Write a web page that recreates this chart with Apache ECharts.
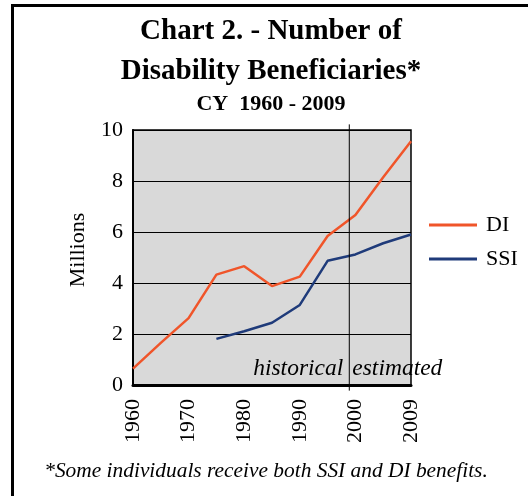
<!DOCTYPE html>
<html>
<head>
<meta charset="utf-8">
<script src="https://cdn.jsdelivr.net/npm/echarts@6/dist/echarts.min.js"></script>
<style>
html,body{margin:0;padding:0;background:#fff;}
#chart{width:528px;height:496px;}
</style>
</head>
<body>
<div id="chart"></div>
<script>
const years = ['1960','1965','1970','1975','1980','1985','1990','1995','2000','2005','2009'];
const diValues = [0.64, 1.65, 2.62, 4.33, 4.66, 3.88, 4.25, 5.84, 6.67, 8.15, 9.56];
const ssiValues = [null, null, null, 1.81, 2.11, 2.44, 3.14, 4.87, 5.12, 5.56, 5.90];
const yTicks = [0, 2, 4, 6, 8, 10];
const dividerIndex = 7.78; // position of historical/estimated divider, in category units
const serif = '"Liberation Serif", "Times New Roman", serif';

const chart = echarts.init(document.getElementById('chart'), null, {renderer: 'canvas'});

const option = {
  backgroundColor: '#ffffff',
  animation: false,
  title: {
    text: 'Chart 2. - Number of\nDisability Beneficiaries*',
    subtext: 'CY  1960 - 2009',
    left: 266,
    top: 7,
    textAlign: 'center',
    itemGap: 0,
    textStyle: {fontFamily: serif, fontWeight: 'bold', fontSize: 29, lineHeight: 40, color: '#000'},
    subtextStyle: {fontFamily: serif, fontWeight: 'bold', fontSize: 22, lineHeight: 24, color: '#000'}
  },
  legend: {
    orient: 'vertical',
    left: 424,
    top: 209,
    icon: 'rect',
    itemWidth: 48,
    itemHeight: 3,
    itemGap: 12,
    data: ['DI', 'SSI'],
    textStyle: {fontFamily: serif, fontSize: 22, lineHeight: 22, color: '#000', padding: [0, 0, 0, 4]}
  },
  grid: {
    left: 133, right: 117, top: 130, bottom: 111,
    show: true, backgroundColor: '#d9d9d9', borderColor: '#000', borderWidth: 1.5
  },
  xAxis: [{
    type: 'category',
    data: years,
    boundaryGap: false,
    axisLine: {show: true, lineStyle: {color: '#000', width: 3}},
    axisTick: {show: false},
    splitLine: {show: false},
    axisLabel: {interval: 1, rotate: 90, margin: 14, fontFamily: serif, fontSize: 22, color: '#000'}
  }, {
    type: 'value', min: 0, max: years.length - 1, show: false
  }],
  yAxis: {
    type: 'value', min: yTicks[0], max: yTicks[yTicks.length - 1], interval: 2,
    axisLine: {show: true, lineStyle: {color: '#000', width: 2}},
    axisTick: {show: false},
    splitLine: {show: true, lineStyle: {color: '#000', width: 1}},
    axisLabel: {margin: 10, fontFamily: serif, fontSize: 22, color: '#000'}
  },
  series: [{
    name: 'DI', type: 'line', data: diValues, color: '#f0552a',
    symbol: 'none', lineStyle: {width: 2.5, color: '#f0552a'}, z: 3
  }, {
    name: 'SSI', type: 'line', data: ssiValues, color: '#1f3b7a',
    symbol: 'none', lineStyle: {width: 2.5, color: '#1f3b7a'}, z: 3
  }]
};
chart.setOption(option);

const divX = chart.convertToPixel({xAxisIndex: 1}, dividerIndex);
const divTop = chart.convertToPixel({yAxisIndex: 0}, 10.22);
const divBottom = chart.convertToPixel({yAxisIndex: 0}, -0.22);
const labelY = chart.convertToPixel({yAxisIndex: 0}, 0.62);
chart.setOption({
  graphic: [
    {type: 'rect', shape: {x: 12.5, y: 5.5, width: 700, height: 700}, style: {fill: 'none', stroke: '#000', lineWidth: 3}, silent: true},
    {type: 'line', shape: {x1: divX, y1: divTop, x2: divX, y2: divBottom}, style: {stroke: '#000', lineWidth: 1}, z: 5, silent: true},
    {type: 'text', x: 78, y: 250, rotation: Math.PI / 2,
     style: {text: 'Millions', fontFamily: serif, fontSize: 22, fill: '#000', textAlign: 'center', textVerticalAlign: 'middle'}},
    {type: 'text', x: divX - 6, y: labelY, z: 10,
     style: {text: 'historical', fontFamily: serif, fontStyle: 'italic', fontSize: 23.5, fill: '#000', textAlign: 'right', textVerticalAlign: 'middle'}},
    {type: 'text', x: divX + 3, y: labelY, z: 10,
     style: {text: 'estimated', fontFamily: serif, fontStyle: 'italic', fontSize: 23.5, fill: '#000', textAlign: 'left', textVerticalAlign: 'middle'}},
    {type: 'text', x: 266, y: 471,
     style: {text: '*Some individuals receive both SSI and DI benefits.', fontFamily: serif, fontStyle: 'italic', fontSize: 21.4, fill: '#000', textAlign: 'center', textVerticalAlign: 'middle'}}
  ]
});
</script>
</body>
</html>
